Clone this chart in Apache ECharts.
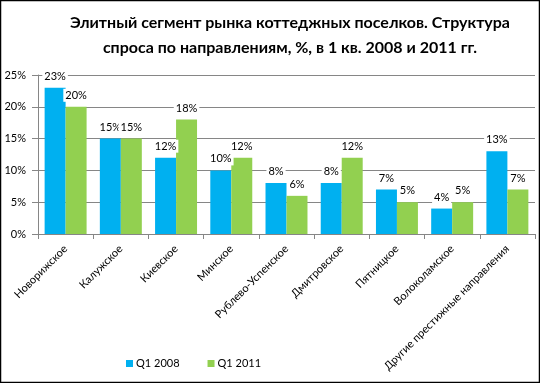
<!DOCTYPE html>
<html><head><meta charset="utf-8">
<script src="https://cdn.jsdelivr.net/npm/echarts@6/dist/echarts.min.js"></script>
<style>html,body{margin:0;padding:0;background:#fff}#c{width:540px;height:383px}</style>
</head><body><div id="c"></div>
<script>
const categories = ['Новорижское','Калужское','Киевское','Минское','Рублево-Успенское','Дмитровское','Пятницкое','Волоколамское','Другие престижные направления'];
const q2008 = [23,15,12,10,8,8,7,4,13];
const q2011 = [20,15,18,12,6,12,5,5,7];
const seriesNames = ['Q1 2008','Q1 2011'];
const yTicks = [0,5,10,15,20,25];

const FONT = 'Lato, "Noto Sans", sans-serif';
const chart = echarts.init(document.getElementById('c'));
const lbl = {
  show: true, position: 'top', distance: 5,
  formatter: p => p.value + '%',
  fontFamily: FONT, fontSize: 11, color: '#000',
  backgroundColor: '#fff', padding: [1, 2]
};
chart.setOption({
  animation: false,
  title: {
    text: 'Элитный сегмент рынка коттеджных поселков. Структура\nспроса по направлениям, %, в 1 кв. 2008 и 2011 гг.',
    left: 285, top: 5, textAlign: 'center',
    textStyle: {fontFamily: FONT, fontWeight: 'bold', fontSize: 16, lineHeight: 25, color: '#000'}
  },
  graphic: [{type: 'rect', shape: {x: 0.5, y: 0.5, width: 539, height: 382}, style: {fill: 'none', stroke: '#000', lineWidth: 1.5}, silent: true}],
  legend: {
    bottom: 9, left: 121, itemWidth: 7, itemHeight: 7, itemGap: 28, icon: 'rect',
    textStyle: {fontFamily: FONT, fontSize: 11, color: '#000', padding: [0, 0, 0, -2]},
    data: seriesNames
  },
  grid: {left: 38, right: 5, top: 75, bottom: 149, containLabel: false},
  xAxis: {
    type: 'category', data: categories,
    axisLine: {lineStyle: {color: '#868686'}},
    axisTick: {show: true, length: 5, lineStyle: {color: '#868686'}},
    axisLabel: {rotate: 45, interval: 0, fontFamily: FONT, fontSize: 11, color: '#000', margin: 13}
  },
  yAxis: {
    type: 'value', min: 0, max: 25, interval: 5,
    axisLine: {show: true, lineStyle: {color: '#868686'}},
    axisTick: {show: true, length: 6, lineStyle: {color: '#868686'}},
    axisLabel: {formatter: v => yTicks.includes(v) ? v + '%' : '', fontFamily: FONT, fontSize: 11, color: '#000', margin: 12},
    splitLine: {lineStyle: {color: '#868686'}}
  },
  series: [
    {name: seriesNames[0], type: 'bar', data: q2008, itemStyle: {color: '#00B0F0'}, barGap: '0%', barCategoryGap: '24%', label: lbl, z: 3},
    {name: seriesNames[1], type: 'bar', data: q2011, itemStyle: {color: '#92D050'}, barGap: '0%', barCategoryGap: '24%', label: lbl, z: 3}
  ]
});
</script></body></html>
